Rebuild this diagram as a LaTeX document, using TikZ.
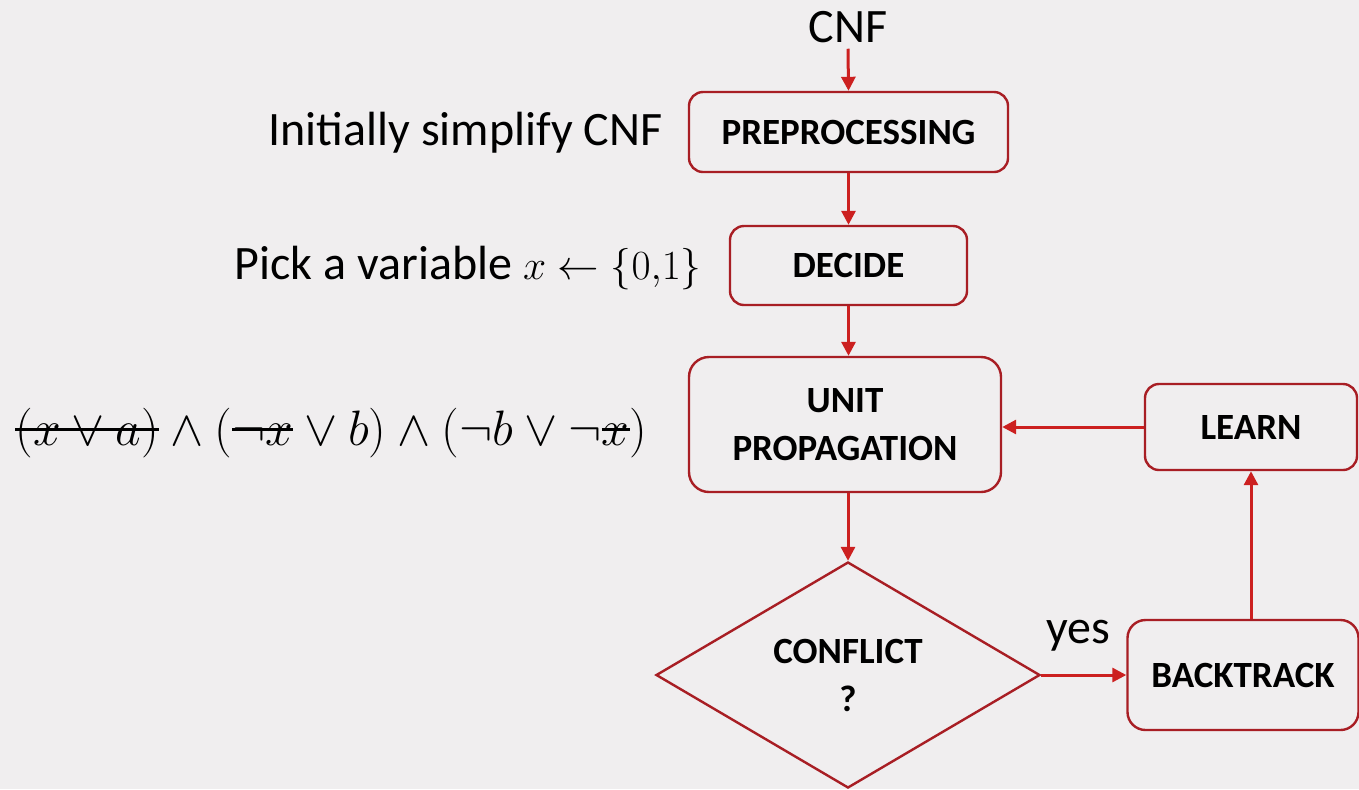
\documentclass[tikz,border=0pt]{standalone}
\usepackage{fontspec}
\setmainfont{Carlito}
\usetikzlibrary{arrows.meta,shapes.geometric}
\definecolor{pagebg}{RGB}{240,238,239}
\definecolor{boxred}{RGB}{168,30,36}
\definecolor{arrred}{RGB}{204,32,32}
% strike a piece of a formula through the middle
\newcommand\crossout[1]{\setbox0\hbox{$#1$}\rlap{\rule[0.3em]{\wd0}{0.07em}}\box0}
\tikzset{
  stepbox/.style={draw=boxred, line width=1.2pt, rounded corners=7pt, fill=pagebg,
    align=center, font=\fontsize{18.5}{22}\selectfont\bfseries, inner sep=0pt},
  testbox/.style={draw=boxred, line width=1.2pt, diamond, fill=pagebg,
    align=center, font=\fontsize{18.5}{22}\selectfont\bfseries, inner sep=0pt},
  arr/.style={draw=arrred, line width=1.5pt, -{Triangle[length=7pt,width=7pt]}},
  note/.style={font=\fontsize{24}{28}\selectfont, inner sep=0pt},
}
\begin{document}
\begin{tikzpicture}[x=0.5pt,y=-0.5pt]
  \fill[pagebg] (0,0) rectangle (1359,789);
  \useasboundingbox (0,0) rectangle (1359,789);

  % flow steps
  \node[stepbox, minimum width=159.5pt, minimum height=40pt] (pre) at (848.5,132) {PREPROCESSING};
  \node[stepbox, minimum width=118.5pt, minimum height=39.5pt] (dec) at (848.5,265.5) {DECIDE};
  \node[stepbox, minimum width=156pt, minimum height=67.5pt, rounded corners=10pt] (unit) at (845,424.5) {UNIT\\[2pt]PROPAGATION};
  \node[stepbox, minimum width=106pt, minimum height=43pt] (learn) at (1251,427) {LEARN};
  \node[stepbox, minimum width=115.5pt, minimum height=55pt, rounded corners=9pt] (back) at (1243,675) {BACKTRACK};
  \node[testbox, minimum width=192pt, minimum height=113pt] (conf) at (848,675) {CONFLICT\\[2pt]?};

  % side notes
  \node[note, outer sep=3pt] (cnf) at (848,27) {CNF};
  \node[note, anchor=east] (simp) at (663,133) {Initially simplify CNF};
  \node[note, anchor=east] (pick) at (702,268) {Pick a variable {\fontsize{21}{24}\selectfont$x \leftarrow \{0{,}1\}$}};
  \node[note, anchor=west] (form) at (15,433)
    {$\crossout{(x \vee a)} \wedge (\crossout{\neg x} \vee b) \wedge (\neg b \vee \neg\crossout{x})$};
  \node[note] (yes) at (1078,636) {yes};

  % connectors
  \draw[arr] (cnf.south) -- (pre.north);
  \draw[arr] (pre.south) -- (dec.north);
  \draw[arr] (dec.south) -- (dec.south |- unit.north);
  \draw[arr] (conf.north |- unit.south) -- (conf.north);
  \draw[arr] (conf.east) -- (back.west);
  \draw[arr] (learn.south |- back.north) -- (learn.south);
  \draw[arr] (learn.west) -- (learn.west -| unit.east);
\end{tikzpicture}
\end{document}
